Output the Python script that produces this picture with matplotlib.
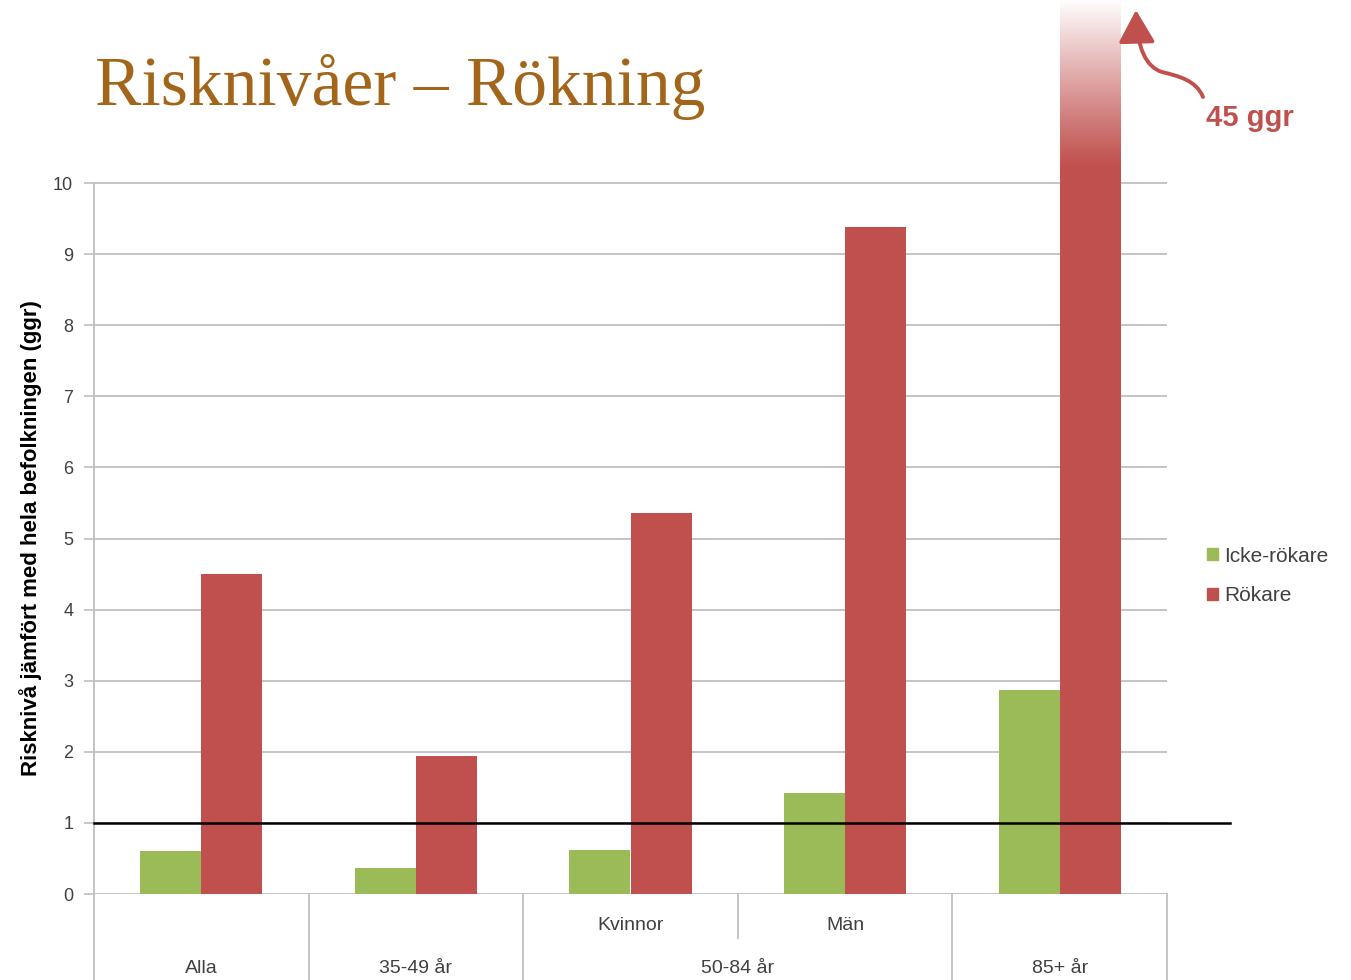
import numpy as np
import matplotlib
matplotlib.use("Agg")
import matplotlib.pyplot as plt
from matplotlib.path import Path
from matplotlib.patches import FancyArrowPatch, Patch

# data
groups = ["Alla", "35-49 år", "Kvinnor", "Män", "85+ år"]
icke_rokare = [0.6, 0.37, 0.62, 1.42, 2.87]
rokare = [4.5, 1.94, 5.36, 9.38, 45]
series_names = ["Icke-rökare", "Rökare"]
yticks = list(range(0, 11))

GREEN = "#9BBB59"
RED = "#C0504D"
GRID = "#BFBFBF"
TEXT = "#404040"

plt.rcParams['font.family'] = ['Liberation Sans', 'DejaVu Sans']

fig = plt.figure(figsize=(13.51, 9.80), dpi=100)
ax = fig.add_axes([94 / 1351, 86 / 980, (1167 - 94) / 1351, 894 / 980])

x = np.arange(len(groups))
w = 0.285
ytop = 894 / 71.1

ax.bar(x - w / 2, icke_rokare, w, color=GREEN, zorder=3)
ax.bar(x + w / 2, rokare, w, color=RED, zorder=3)

# fade out the bar that runs off the chart
grad = np.ones((200, 1, 4))
grad[:, 0, 3] = np.linspace(0, 1, 200) ** 1.1
ax.imshow(grad, extent=[x[-1], x[-1] + w, 10.2, ytop], origin='lower',
          aspect='auto', zorder=4)

ax.set_xlim(-0.5, len(groups) - 0.5)
ax.set_ylim(0, ytop)

ax.set_yticks(yticks)
ax.set_yticklabels([str(t) for t in yticks], fontsize=13, color=TEXT)
ax.tick_params(axis='y', length=7, color=GRID, width=1.2, pad=8)
ax.set_xticks([])
for t in yticks:
    ax.axhline(t, color=GRID, lw=1.3, zorder=1)

for s in ["top", "right", "bottom"]:
    ax.spines[s].set_visible(False)
ax.spines["left"].set_bounds(0, 10)
ax.spines["left"].set_color(GRID)
ax.spines["left"].set_linewidth(1.3)

# reference line at 1
ax.plot([-0.5, 4.794], [1, 1], color="black", lw=1.8, zorder=5, clip_on=False)

# category table below the axis
tr = ax.get_xaxis_transform()
ybot = -86 / 894
for b in [-0.5, 0.5, 1.5, 3.5, 4.5]:
    ax.plot([b, b], [0, ybot], color=GRID, lw=1.3, transform=tr, clip_on=False)
ax.plot([2.5, 2.5], [0, -44 / 894], color=GRID, lw=1.3, transform=tr, clip_on=False)

for i, g in enumerate(groups):
    if g in ("Kvinnor", "Män"):
        ax.text(i, -31 / 894, g, transform=tr, ha='center', va='center',
                fontsize=14, color=TEXT)
    else:
        ax.text(i, -74 / 894, g, transform=tr, ha='center', va='center',
                fontsize=14, color=TEXT)
ax.text(2.5, -74 / 894, "50-84 år", transform=tr, ha='center', va='center',
        fontsize=14, color=TEXT)

ax.set_ylabel("Risknivå jämfört med hela befolkningen (ggr)", fontsize=16,
              fontweight='bold', color="black")
ax.yaxis.set_label_coords(-52 / 1073, 5.0 / ytop)

fig.text(95 / 1351, 1 - 87 / 980, "Risknivåer – Rökning", fontsize=50,
         family=['Liberation Serif', 'DejaVu Serif'], color="#A3651A",
         ha='left', va='center')

# legend
handles = [Patch(color=GREEN), Patch(color=RED)]
leg = fig.legend(handles, series_names, loc='center left',
                 bbox_to_anchor=(1188 / 1351, 1 - 576 / 980), frameon=False,
                 fontsize=15, handlelength=0.55, handleheight=0.55,
                 handletextpad=0.3, labelspacing=1.0)
for t in leg.get_texts():
    t.set_color(TEXT)

# curved arrow and 45 ggr note
def fp(px, py):
    return (px / 1351, 1 - py / 980)

verts = [fp(1203, 97), fp(1196, 80), fp(1178, 76), fp(1162, 72),
         fp(1146, 67), fp(1137, 48), fp(1136, 10)]
codes = [Path.MOVETO, Path.CURVE4, Path.CURVE4, Path.CURVE4,
         Path.CURVE4, Path.CURVE4, Path.CURVE4]
arrow = FancyArrowPatch(path=Path(verts, codes),
                        arrowstyle="-|>,head_length=0.8,head_width=0.45",
                        mutation_scale=25, color=RED, lw=2.8,
                        transform=fig.transFigure)
fig.add_artist(arrow)
fig.text(1250 / 1351, 1 - 118 / 980, "45 ggr", fontsize=21, fontweight='bold',
         color=RED, ha='center', va='center')

fig.savefig("out.png", dpi=100)
